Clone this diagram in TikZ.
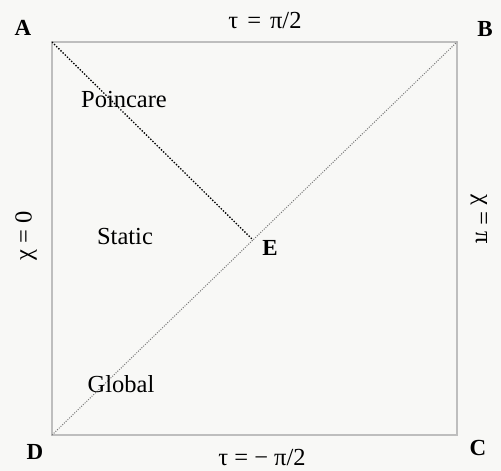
\documentclass[tikz,border=0pt]{standalone}
\usepackage{fontspec}
\setmainfont{Liberation Serif}
\begin{document}
\begin{tikzpicture}[x=1pt,y=-1pt,
  lbl/.style={font=\fontsize{24.5}{26}\selectfont, inner sep=0pt},
  corner/.style={font=\fontsize{23}{26}\selectfont\bfseries, inner sep=0pt},
  frame/.style={draw={rgb,255:red,190;green,190;blue,190}, line width=1.1pt},
  nulldiag/.style={draw={rgb,255:red,120;green,120;blue,120}, line width=1pt, dash pattern=on 1pt off 1.4pt},
  horizon/.style={draw=black, line width=1.3pt, dash pattern=on 1.4pt off 1.6pt}]
\definecolor{bgc}{RGB}{248,248,246}
\useasboundingbox (0,0) rectangle (501,471);
\fill[bgc] (0,0) rectangle (501,471);
% corners
\coordinate (cA) at (52,42);
\coordinate (cB) at (457,42);
\coordinate (cC) at (457,435);
\coordinate (cD) at (52,435);
\coordinate (cE) at (253,240);
\draw[frame] (cA) -- (cB) -- (cC) -- (cD) -- cycle;
\draw[nulldiag] (cD) -- (cB);
\draw[horizon] (cA) -- (cE);
% labels
\node[corner] (lA) at (23,28) {A};
\node[corner] (lB) at (485,29) {B};
\node[corner] (lC) at (478,448) {C};
\node[corner] (lD) at (35,452) {D};
\node[corner] (lE) at (270,248) {E};
\node[lbl] (top) at (265,21) {τ\hspace{9pt}=\hspace{9pt}π/2};
\node[lbl] (bot) at (262,458) {τ = − π/2};
\node[lbl, rotate=90] (left) at (26,236) {χ = 0};
\node[lbl, rotate=-90] (right) at (479,219) {χ = π};
\node[lbl] (poin) at (124,100) {Poincare};
\node[lbl] (stat) at (125,237) {Static};
\node[lbl] (glob) at (121,384) {Global};
\end{tikzpicture}
\end{document}
